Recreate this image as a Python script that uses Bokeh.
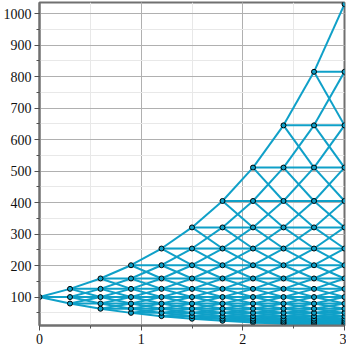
from bokeh.plotting import figure
from bokeh.models import Range1d
from bokeh.embed import file_html
from bokeh.resources import INLINE

# Time steps (x) and price levels (y)
times = [0.0, 0.3, 0.6, 0.9, 1.2, 1.5, 1.8, 2.1, 2.4, 2.7, 3.0]
# price levels indexed by net up-moves k = -10 .. 10
levels = [9.7, 12.3, 15.5, 19.6, 24.7, 31.2, 39.4, 49.8, 62.9, 79.4,
          100, 126, 159, 201, 254, 321, 405, 511, 645, 815, 1030]
mid = 10  # index of the starting level (100)

xs_seg, ys_seg = [], []
px, py = [], []
for i, t in enumerate(times):
    for k in range(-i, i + 1):
        px.append(t)
        py.append(levels[mid + k])
        if i + 1 < len(times):
            for dk in (-1, 0, 1):
                xs_seg.append([t, times[i + 1]])
                ys_seg.append([levels[mid + k], levels[mid + k + dk]])

C = "#0fa0c8"
p = figure(width=346, height=346, output_backend="svg", toolbar_location=None,
           x_range=Range1d(0, 3), y_range=Range1d(levels[0], levels[-1] + 5),
           min_border_top=2, min_border_right=2, min_border_bottom=2,
           min_border_left=2)
p.background_fill_color = "white"
p.border_fill_color = "white"
p.outline_line_color = "#707070"
p.outline_line_width = 2

p.multi_line(xs_seg, ys_seg, line_color=C, line_width=2)
p.scatter(px, py, size=5, fill_color=C, line_color="black", line_width=1)

for ax in (p.xaxis, p.yaxis):
    ax.axis_line_color = "#707070"
    ax.axis_line_width = 2
    ax.major_tick_line_color = "#505050"
    ax.minor_tick_line_color = "#505050"
    ax.major_tick_out = 5
    ax.major_tick_in = 0
    ax.minor_tick_out = 3
    ax.minor_tick_in = 0
    ax.major_label_text_font = "Liberation Serif"
    ax.major_label_text_font_size = "14px"
    ax.major_label_text_color = "#111111"
    ax.major_label_standoff = 3

p.xaxis.ticker.desired_num_ticks = 4
p.xaxis.ticker.num_minor_ticks = 2
p.yaxis.ticker.desired_num_ticks = 10
p.yaxis.ticker.num_minor_ticks = 2

for g in (p.xgrid, p.ygrid):
    g.grid_line_color = "#b0b0b0"
    g.grid_line_width = 1
    g.minor_grid_line_color = "#e8e8e8"
    g.minor_grid_line_width = 1

open("out.html", "w").write(file_html(p, INLINE))
